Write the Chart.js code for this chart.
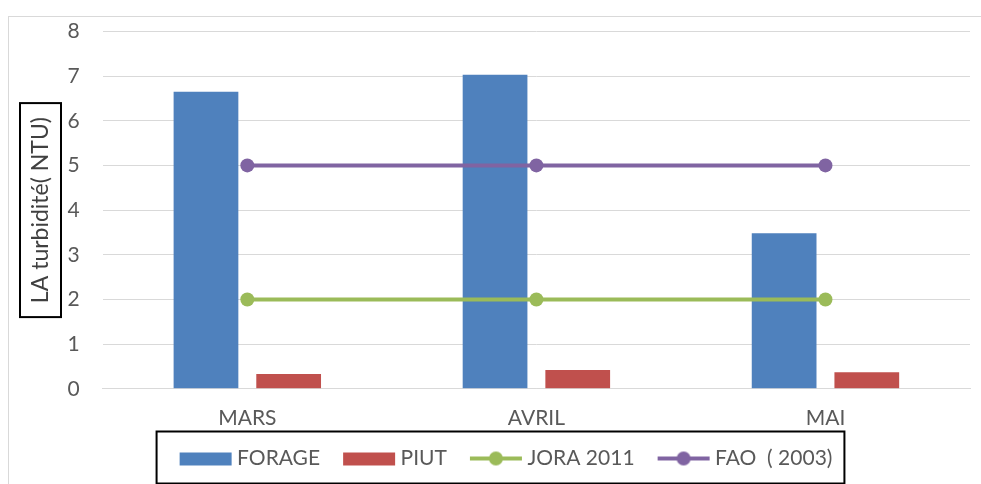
<!DOCTYPE html>
<html>
<head>
<meta charset="utf-8">
<script src="https://cdn.jsdelivr.net/npm/chart.js@4/dist/chart.umd.min.js"></script>
<style>
  html, body { margin: 0; padding: 0; background: #fff; }
  #wrap { width: 981px; height: 484px; position: relative; }
</style>
</head>
<body>
<div id="wrap"><canvas id="turbidity-chart"></canvas></div>
<script>
// Données
const months = ['MARS', 'AVRIL', 'MAI'];
const forage = [6.65, 7.03, 3.48];
const piut = [0.33, 0.42, 0.37];
const jora2011 = [2, 2, 2];
const fao2003 = [5, 5, 5];
const yTicks = [0, 1, 2, 3, 4, 5, 6, 7, 8];

const BLUE = '#4F81BD', RED = '#C0504D', GREEN = '#9BBB59', PURPLE = '#8064A2';
const FONT = 'Lato, "Liberation Sans", sans-serif';

// icônes de légende façon Excel (marge transparente à gauche pour l'espacement)
const ICON_W = 74, ICON_OFF = 21;
function legendIcon(color, isLine) {
    const c = document.createElement('canvas');
    c.width = ICON_W; c.height = 16;
    const g = c.getContext('2d');
    g.fillStyle = color;
    if (isLine) {
        g.fillRect(ICON_OFF, 6, 52, 4);
        g.beginPath();
        g.arc(ICON_OFF + 26, 8, 7, 0, Math.PI * 2);
        g.fill();
    } else {
        g.fillRect(ICON_OFF, 2, 52, 13);
    }
    return c;
}

// cadre extérieur + encadrés du titre Y et de la légende
const framePlugin = {
    id: 'frames',
    beforeDraw(chart) {
        const ctx = chart.ctx;
        ctx.save();
        ctx.fillStyle = '#fff';
        ctx.fillRect(0, 0, chart.width, chart.height);
        ctx.strokeStyle = '#D9D9D9';
        ctx.lineWidth = 1;
        ctx.strokeRect(8.5, 16.5, chart.width + 20, chart.height + 20);
        ctx.restore();
    },
    afterDraw(chart) {
        const ctx = chart.ctx;
        const area = chart.chartArea;
        ctx.save();
        ctx.strokeStyle = '#000';
        ctx.lineWidth = 2;
        // titre de l'axe Y
        const midY = (area.top + area.bottom) / 2;
        ctx.strokeRect(20, midY - 107, 41, 214);
        // légende
        const boxes = chart.legend.legendHitBoxes;
        if (boxes && boxes.length) {
            const left = Math.min(...boxes.map(b => b.left)) - 8;
            const right = Math.max(...boxes.map(b => b.left + b.width)) + 12;
            const mid = boxes[0].top + boxes[0].height / 2;
            ctx.strokeRect(left, mid - 27, right - left, 52);
        }
        ctx.restore();
    }
};

document.addEventListener('DOMContentLoaded', () => {
    const canvas = document.getElementById('turbidity-chart');
    canvas.width = 981;
    canvas.height = 484;
    const ctx = canvas.getContext('2d');

    new Chart(ctx, {
        data: {
            labels: months,
            datasets: [
                { type: 'bar', label: 'FORAGE', data: forage, backgroundColor: BLUE,
                  categoryPercentage: 0.572, barPercentage: 0.783, order: 2 },
                { type: 'bar', label: 'PIUT', data: piut, backgroundColor: RED,
                  categoryPercentage: 0.572, barPercentage: 0.783, order: 2 },
                { type: 'line', label: 'JORA 2011', data: jora2011, borderColor: GREEN,
                  backgroundColor: GREEN, borderWidth: 4, pointRadius: 7, pointBorderWidth: 0,
                  pointBackgroundColor: GREEN, fill: false, order: 1 },
                { type: 'line', label: 'FAO  ( 2003)', data: fao2003, borderColor: PURPLE,
                  backgroundColor: PURPLE, borderWidth: 4, pointRadius: 7, pointBorderWidth: 0,
                  pointBackgroundColor: PURPLE, fill: false, order: 0 }
            ]
        },
        options: {
            responsive: false,
            animation: false,
            devicePixelRatio: 1,
            layout: { padding: { top: 4, right: 11, bottom: 5, left: 27 } },
            plugins: {
                tooltip: { enabled: false },
                legend: {
                    position: 'bottom',
                    labels: {
                        usePointStyle: true,
                        pointStyleWidth: 62,
                        padding: 8,
                        color: '#595959',
                        font: { family: FONT, size: 21 },
                        generateLabels(chart) {
                            return chart.data.datasets.map((ds, i) => ({
                                text: ds.label,
                                datasetIndex: i,
                                pointStyle: legendIcon(ds.type === 'line' ? ds.borderColor : ds.backgroundColor, ds.type === 'line'),
                                fillStyle: ds.backgroundColor,
                                strokeStyle: ds.backgroundColor,
                                lineWidth: 0,
                                fontColor: '#595959',
                                hidden: false
                            }));
                        }
                    }
                }
            },
            scales: {
                x: {
                    offset: true,
                    grid: { display: false },
                    border: { display: true, color: '#D9D9D9' },
                    ticks: { color: '#595959', font: { family: FONT, size: 21 }, padding: 9 }
                },
                y: {
                    min: 0,
                    max: 8,
                    afterBuildTicks(scale) { scale.ticks = yTicks.map(v => ({ value: v })); },
                    grid: { color: '#D9D9D9', lineWidth: 1, drawTicks: false },
                    border: { display: false },
                    ticks: { color: '#595959', font: { family: FONT, size: 21, lineHeight: 0.8 }, padding: 23 },
                    title: {
                        display: true,
                        text: 'LA turbidité( NTU)',
                        color: '#404040',
                        font: { family: FONT, size: 23 },
                        padding: { top: 0, bottom: -10 }
                    }
                }
            }
        },
        plugins: [framePlugin]
    });
});
</script>
</body>
</html>
